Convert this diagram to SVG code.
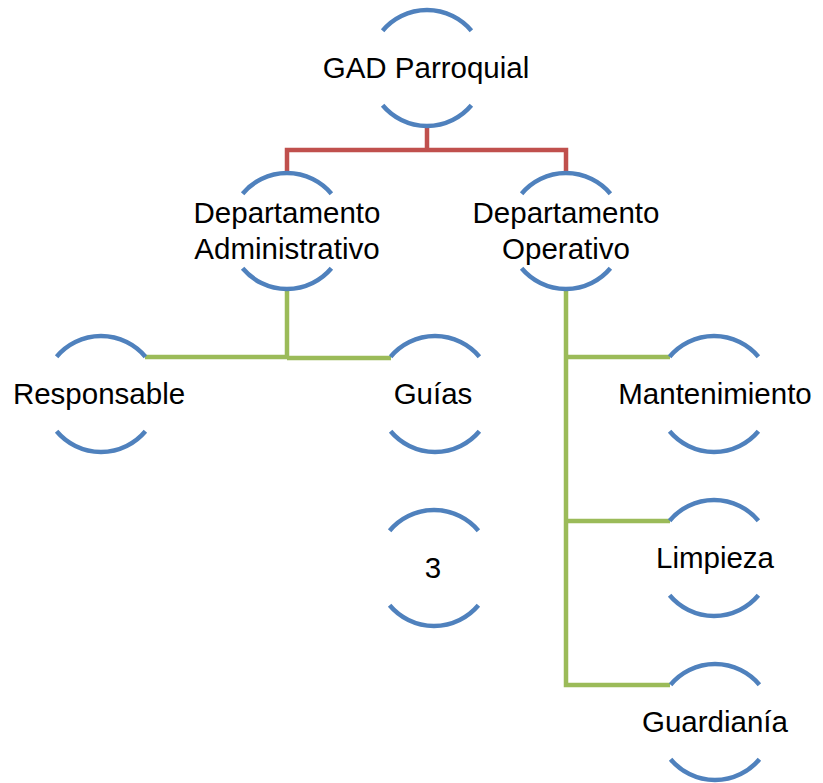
<svg xmlns="http://www.w3.org/2000/svg" xmlns:xlink="http://www.w3.org/1999/xlink" width="823" height="783" viewBox="0 0 823 783">
<style>
.arc{fill:none;stroke:#4F81BD;stroke-width:4.5}
.red{fill:none;stroke:#C0504D;stroke-width:4.5}
.green{fill:none;stroke:#9BBB59;stroke-width:4.5}
text{font-family:"Liberation Sans",Arial,sans-serif;font-size:29.5px;fill:#000;text-anchor:middle}
</style>
<defs>
<path id="arcs" d="M-44.4,-37.3 A58,58 0 0 1 44.4,-37.3 M-44.4,37.3 A58,58 0 0 0 44.4,37.3"/>
</defs>
<rect width="823" height="783" fill="#fff"/>
<g id="connectors">
<path class="red" d="M427,126 V150 M287,173 V150 H566 V173"/>
<path class="green" d="M287,290 V357.5 M145,357 H287 M287,358 H391"/>
<path class="green" d="M566,290 V685 H670 M566,357 H670 M566,521 H670"/>
</g>
<g id="n-gad"><use href="#arcs" class="arc" transform="translate(427,68)"/><text x="426" y="78">GAD Parroquial</text></g>
<g id="n-admin"><use href="#arcs" class="arc" transform="translate(287,231)"/><text x="287" y="223">Departamento</text><text x="287" y="259">Administrativo</text></g>
<g id="n-oper"><use href="#arcs" class="arc" transform="translate(566,231)"/><text x="566" y="223">Departamento</text><text x="566" y="259">Operativo</text></g>
<g id="n-resp"><use href="#arcs" class="arc" transform="translate(101,394)"/><text x="99" y="404">Responsable</text></g>
<g id="n-guias"><use href="#arcs" class="arc" transform="translate(435,394)"/><text x="433" y="404">Guías</text></g>
<g id="n-3"><use href="#arcs" class="arc" transform="translate(434,568)"/><text x="433" y="578">3</text></g>
<g id="n-mant"><use href="#arcs" class="arc" transform="translate(714,394)"/><text x="715" y="404">Mantenimiento</text></g>
<g id="n-limp"><use href="#arcs" class="arc" transform="translate(714,558)"/><text x="715" y="568">Limpieza</text></g>
<g id="n-guard"><use href="#arcs" class="arc" transform="translate(715,722)"/><text x="715" y="732">Guardianía</text></g>
</svg>
